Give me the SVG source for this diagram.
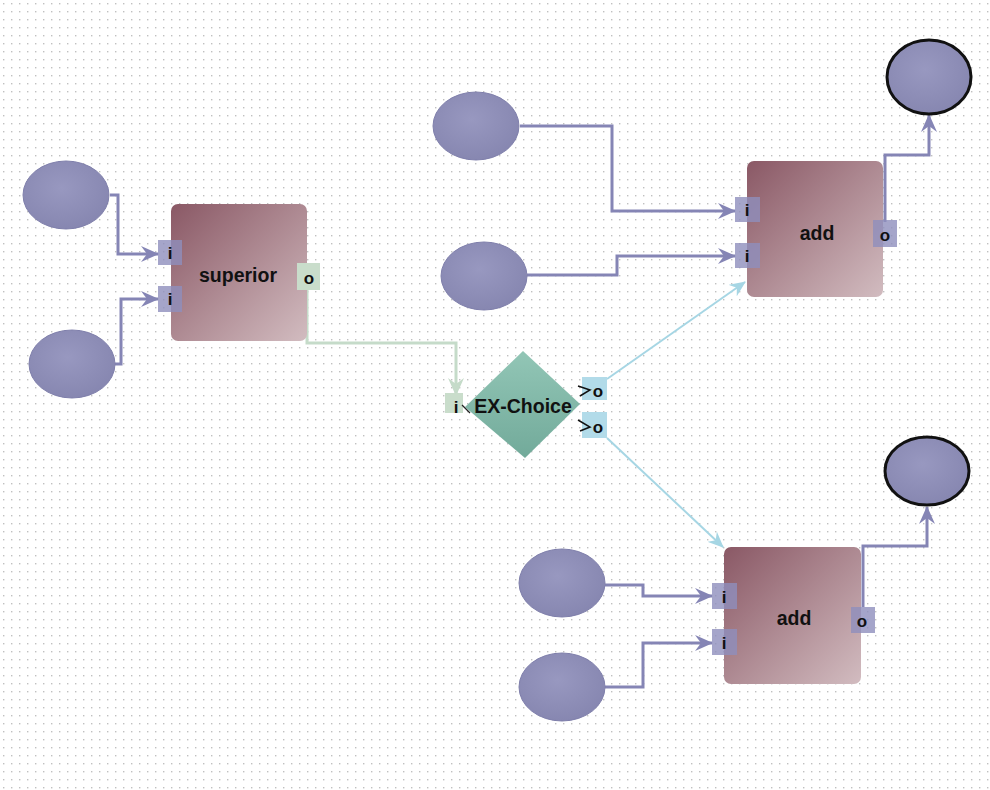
<svg xmlns="http://www.w3.org/2000/svg" width="990" height="790" viewBox="0 0 990 790">
<defs>
  <pattern id="grid" width="8" height="8" patternUnits="userSpaceOnUse">
    <rect x="3" y="3" width="1.4" height="1.4" fill="#c0c0c0"/>
  </pattern>
  <linearGradient id="blk" x1="0" y1="0" x2="1" y2="1">
    <stop offset="0" stop-color="#8a5865"/>
    <stop offset="1" stop-color="#d2bcc0"/>
  </linearGradient>
  <linearGradient id="dia" x1="0" y1="0" x2="0" y2="1">
    <stop offset="0" stop-color="#92c6b6"/>
    <stop offset="1" stop-color="#72aa9a"/>
  </linearGradient>
  <radialGradient id="circ" cx="0.45" cy="0.4" r="0.7">
    <stop offset="0" stop-color="#9898c0"/>
    <stop offset="1" stop-color="#8484ae"/>
  </radialGradient>
  <marker id="arP" markerWidth="18" markerHeight="16" refX="17" refY="8" orient="auto" markerUnits="userSpaceOnUse">
    <path d="M0,0 L18,8 L0,16 L6,8 z" fill="#8585b5"/>
  </marker>
  <marker id="arG" markerWidth="18" markerHeight="16" refX="17" refY="8" orient="auto" markerUnits="userSpaceOnUse">
    <path d="M0,0 L18,8 L0,16 L6,8 z" fill="#c5dbc9"/>
  </marker>
  <marker id="arB" markerWidth="16" markerHeight="14" refX="15" refY="7" orient="auto" markerUnits="userSpaceOnUse">
    <path d="M0,0 L16,7 L0,14 L5,7 z" fill="#a6d6e4"/>
  </marker>
  <style>
    .inC { fill: url(#circ); stroke: #7f7fab; stroke-width: 1; }
    .outC { fill: url(#circ); stroke: #111; stroke-width: 3; }
    .blk { fill: url(#blk); }
    .pP { fill: #8e8ebd; fill-opacity: 0.8; }
    .pG { fill: #c9ddcb; }
    .pB { fill: #b2dbe9; }
    .pt { font-family: "Liberation Sans", Arial, sans-serif; font-weight: bold; font-size: 17px; fill: #111; text-anchor: middle; }
    .lbl { font-family: "Liberation Sans", Arial, sans-serif; font-weight: bold; font-size: 19.5px; fill: #111; text-anchor: middle; }
    .cP { fill: none; stroke: #8585b5; stroke-width: 3; }
    .cG { fill: none; stroke: #c5dbc9; stroke-width: 3; }
    .cB { fill: none; stroke: #a6d6e4; stroke-width: 2; }
  </style>
</defs>
<rect width="990" height="790" fill="#ffffff"/>
<rect width="990" height="790" fill="url(#grid)"/>

<g id="connectors">
  <polyline class="cP" points="110,195 118,195 118,254 158,254" marker-end="url(#arP)"/>
  <polyline class="cP" points="115,364 121,364 121,299 158,299" marker-end="url(#arP)"/>
  <polyline class="cG" points="307,290 307,343 456,343 456,395" marker-end="url(#arG)"/>
  <polyline class="cP" points="520,126 612,126 612,211 735,211" marker-end="url(#arP)"/>
  <polyline class="cP" points="527,275 617,275 617,256 735,256" marker-end="url(#arP)"/>
  <polyline class="cB" points="607,379 745,282" marker-end="url(#arB)"/>
  <polyline class="cB" points="607,438 723,547" marker-end="url(#arB)"/>
  <polyline class="cP" points="885,222 885,155 929,155 929,115" marker-end="url(#arP)"/>
  <polyline class="cP" points="863,607 863,546 927,546 927,507" marker-end="url(#arP)"/>
  <polyline class="cP" points="605,585 643,585 643,596 712,596" marker-end="url(#arP)"/>
  <polyline class="cP" points="605,687 643,687 643,643 712,643" marker-end="url(#arP)"/>
</g>

<g id="in1"><ellipse class="inC" cx="66" cy="195" rx="43" ry="34"/></g>
<g id="in2"><ellipse class="inC" cx="72" cy="364" rx="43" ry="34"/></g>
<g id="in3"><ellipse class="inC" cx="476" cy="126" rx="43" ry="34"/></g>
<g id="in4"><ellipse class="inC" cx="484" cy="276" rx="43" ry="34"/></g>
<g id="in5"><ellipse class="inC" cx="562" cy="583" rx="43" ry="34"/></g>
<g id="in6"><ellipse class="inC" cx="562" cy="687" rx="43" ry="34"/></g>
<g id="out1"><ellipse class="outC" cx="929" cy="77" rx="42" ry="37"/></g>
<g id="out2"><ellipse class="outC" cx="927" cy="471" rx="42" ry="34"/></g>

<g id="superior">
  <rect class="blk" x="171" y="204" width="136" height="137" rx="7"/>
  <text class="lbl" x="238" y="282">superior</text>
  <rect class="pP" x="158" y="240" width="24" height="25"/>
  <text class="pt" x="170" y="259">i</text>
  <rect class="pP" x="158" y="286" width="24" height="26"/>
  <text class="pt" x="170" y="305">i</text>
  <rect class="pG" x="297" y="263" width="23" height="27"/>
  <text class="pt" x="309" y="284">o</text>
</g>

<g id="exchoice">
  <polygon points="523,351 580,404 525,458 465,407" fill="url(#dia)"/>
  <text class="lbl" x="523" y="413">EX-Choice</text>
  <rect class="pG" x="445" y="393" width="18" height="20"/>
  <text class="pt" x="456" y="413">i</text>
  <line x1="462" y1="405" x2="470" y2="413" stroke="#222" stroke-width="1.2"/>
  <rect class="pB" x="582" y="377" width="25" height="23"/>
  <path d="M578,386 L590,390 L580,396" fill="none" stroke="#111" stroke-width="1.5"/>
  <text class="pt" x="598" y="397">o</text>
  <rect class="pB" x="582" y="412" width="25" height="26"/>
  <path d="M578,420 L590,427 L580,431" fill="none" stroke="#111" stroke-width="1.5"/>
  <text class="pt" x="598" y="433">o</text>
</g>

<g id="add1">
  <rect class="blk" x="747" y="161" width="136" height="136" rx="7"/>
  <text class="lbl" x="817" y="240">add</text>
  <rect class="pP" x="735" y="197" width="25" height="25"/>
  <text class="pt" x="747" y="216">i</text>
  <rect class="pP" x="735" y="243" width="25" height="25"/>
  <text class="pt" x="747" y="262">i</text>
  <rect class="pP" x="873" y="220" width="24" height="27"/>
  <text class="pt" x="885" y="241">o</text>
</g>

<g id="add2">
  <rect class="blk" x="724" y="547" width="137" height="137" rx="7"/>
  <text class="lbl" x="794" y="625">add</text>
  <rect class="pP" x="712" y="583" width="25" height="26"/>
  <text class="pt" x="724" y="603">i</text>
  <rect class="pP" x="712" y="629" width="25" height="26"/>
  <text class="pt" x="724" y="649">i</text>
  <rect class="pP" x="851" y="607" width="24" height="26"/>
  <text class="pt" x="862" y="627">o</text>
</g>
</svg>
